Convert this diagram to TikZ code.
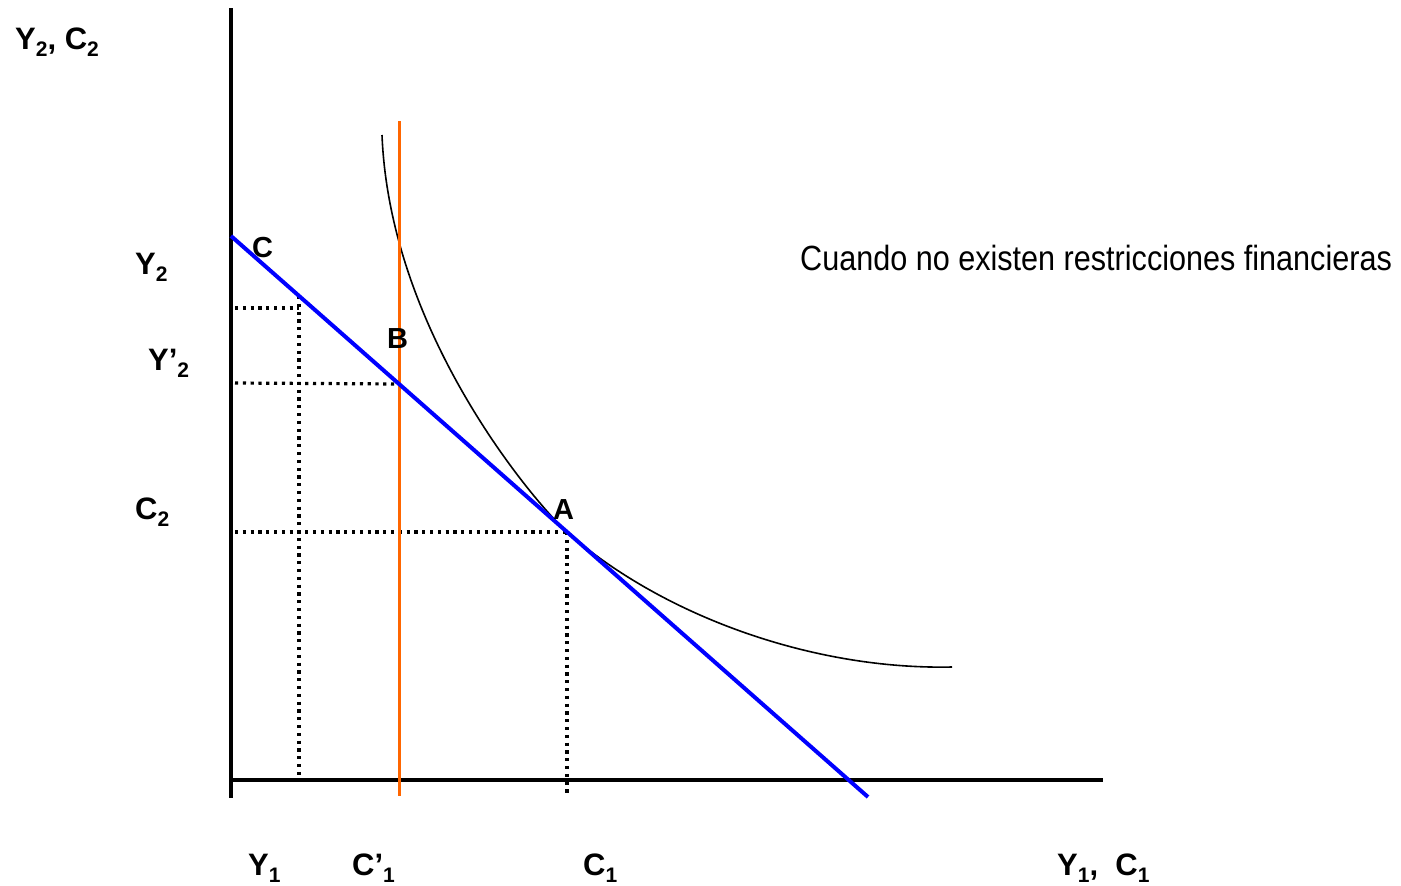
\documentclass[tikz,border=0pt]{standalone}
\usepackage{fontspec}
\setmainfont{Liberation Sans}
\newfontfamily\narrowfont[FakeStretch=0.874]{Liberation Sans}
\newcommand{\ssub}[1]{\raisebox{-0.24em}{\fontsize{21}{21}\selectfont #1}}
\begin{document}
\begin{tikzpicture}[x=1pt,y=-1pt,
  axislbl/.style={font=\fontsize{31}{31}\selectfont\bfseries, inner sep=0pt, anchor=base west},
  ptlbl/.style={font=\fontsize{29}{29}\selectfont\bfseries, inner sep=0pt, anchor=base west},
  axisline/.style={line width=4pt, black},
  budget/.style={line width=4pt, blue},
  restr/.style={line width=3pt, color={rgb,255:red,255;green,102;blue,0}},
  indiff/.style={line width=1.6pt, black},
  guide/.style={line width=3.2pt, black, dash pattern=on 3.2pt off 4.6pt}]
\useasboundingbox (0,0) rectangle (1401,886);
\fill[white] (0,0) rectangle (1401,886);

% coordinates
\coordinate (Ytop) at (231,8);
\coordinate (Ybot) at (231,798);
\coordinate (Xl) at (231,780);
\coordinate (Xr) at (1103,780);
\coordinate (Cb) at (231,236);
\coordinate (Be) at (868,797);
\coordinate (Ot) at (399,121);
\coordinate (Ob) at (399,796);
\coordinate (Bpt) at (399,384);
\coordinate (Apt) at (567,532);
\coordinate (Dpt) at (299,296);
\coordinate (Cs) at (382,135);
\coordinate (Ce) at (952,667);

% guides
\coordinate (g1a) at (235,308); \coordinate (g1b) at (299,308);
\coordinate (g2a) at (235,383);
\coordinate (g3a) at (235,532);
\coordinate (g4b) at (299,780);
\coordinate (g5b) at (567,797);
\draw[guide] (g1a) -- (g1b);
\draw[guide] (Dpt) -- (g4b);
\draw[guide] (g2a) -- (Bpt);
\draw[guide] (g3a) -- (Apt);
\draw[guide] (Apt) -- (g5b);

% axes
\draw[axisline] (Ytop) -- (Ybot);
\draw[axisline] (Xl) -- (Xr);

% indifference curve
\draw[indiff] (Cs) .. controls (390,335) and (537,505) .. (Apt)
  .. controls (660,614) and (810,670) .. (Ce);

% budget line and restriction
\draw[restr] (Ot) -- (Ob);
\draw[budget] (Cb) -- (Be);

% labels
\node[axislbl] (lY2C2) at (15,49) {Y\ssub{2}, C\ssub{2}};
\node[axislbl] (lY2) at (135,274) {Y\ssub{2}};
\node[axislbl] (lYp2) at (148,370) {Y’\ssub{2}};
\node[axislbl] (lC2) at (135,519) {C\ssub{2}};
\node[axislbl] (lY1) at (248,875) {Y\ssub{1}};
\node[axislbl] (lCp1) at (352,875) {C’\ssub{1}};
\node[axislbl] (lC1) at (583,875) {C\ssub{1}};
\node[axislbl] (lY1C1) at (1057,875) {Y\ssub{1},\ \ C\ssub{1}};
\node[ptlbl] (pC) at (252,257) {C};
\node[ptlbl] (pB) at (387,348) {B};
\node[ptlbl] (pA) at (553,519) {A};
\node[inner sep=0pt, anchor=base west, font=\narrowfont\fontsize{35}{35}\selectfont] (note) at (800,270) {Cuando no existen restricciones financieras};
\end{tikzpicture}
\end{document}
